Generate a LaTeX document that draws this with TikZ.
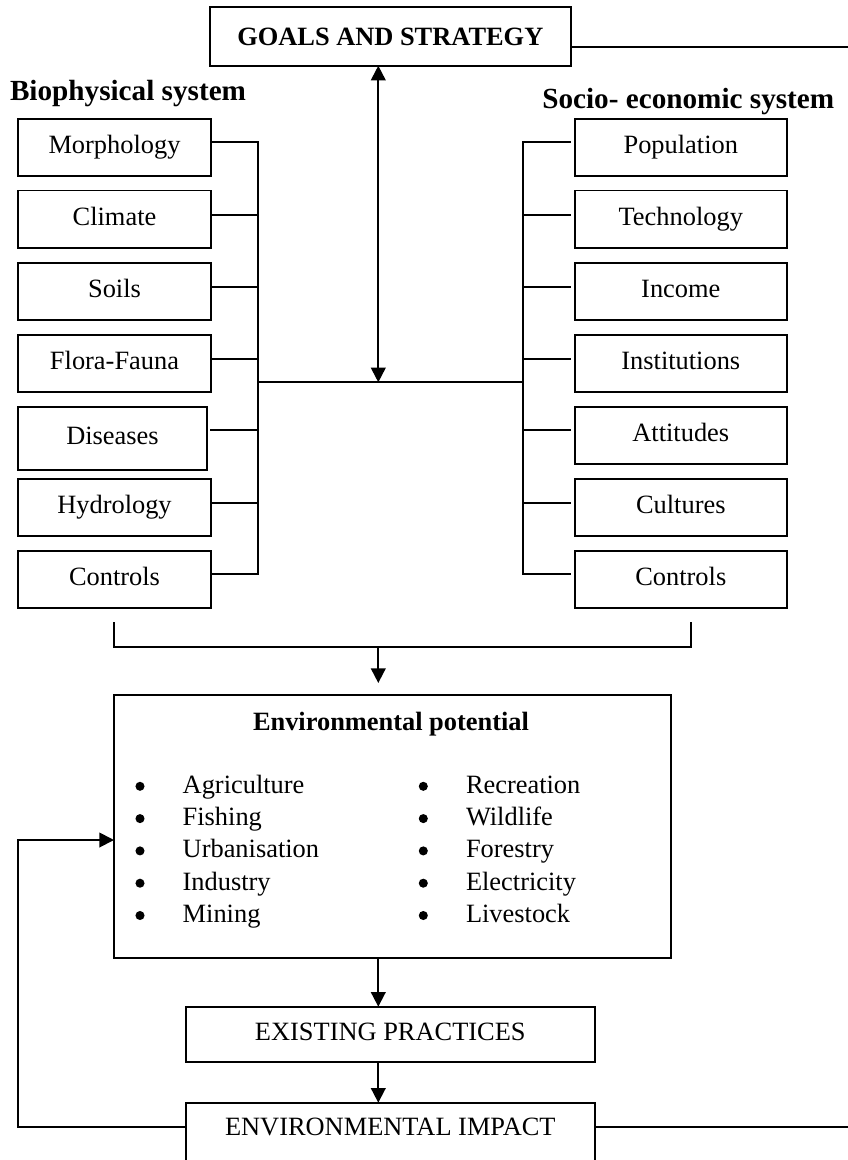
\documentclass[tikz,border=0pt]{standalone}
\usepackage{fontspec}
\setmainfont{Liberation Serif}
\usetikzlibrary{arrows.meta}
\begin{document}
\begin{tikzpicture}[x=0.75pt,y=-0.75pt,
  line width=1.4pt,
  every node/.style={inner sep=0pt, outer sep=0pt},
  body/.style={font=\fontsize{19.8}{23}\selectfont},
  box/.style={draw, body, text height=13.9pt, text depth=4.95pt},
  lbox/.style={box, minimum width=144.75pt, minimum height=43pt},
  rbox/.style={box, minimum width=158.8pt, minimum height=43pt},
  head/.style={font=\fontsize{21.9}{26}\selectfont\bfseries, anchor=base west},
  dot/.style={circle, fill, draw=none, minimum size=6.8pt},
  tip/.style={-{Triangle[width=11pt,length=11pt]}},
  twotip/.style={{Triangle[width=11pt,length=11pt]}-{Triangle[width=11pt,length=11pt]}}
]
\useasboundingbox (0,0) rectangle (848,1160);
\clip (0,0) rectangle (848,1160);

% top goal box
\node[draw, font=\fontsize{19.8}{23}\selectfont\bfseries,
      minimum width=270.5pt, minimum height=43.8pt] (goals) at (390.3,36.5) {GOALS AND STRATEGY};
\coordinate (outT) at (848,46.7);
\draw ([yshift=-7.65pt]goals.east) -- (outT);

% column headings
\node[head] (bio) at (10,100) {Biophysical system};
\node[head] (soc) at (542.3,108.3) {Socio- economic system};

% biophysical factors
\node[lbox] (morph) at (114.5,147.3) {Morphology};
\node[lbox] (clim)  at (114.5,219.2) {Climate};
\node[lbox] (soil)  at (114.5,291.4) {Soils};
\node[lbox] (flora) at (114.5,363.4) {Flora-Fauna};
\node[box, minimum width=141.3pt, minimum height=47.5pt] (dis) at (112.5,438.4) {Diseases};
\node[lbox] (hydro) at (114.5,507.7) {Hydrology};
\node[lbox] (lctrl) at (114.5,579.4) {Controls};

% socio-economic factors
\node[rbox] (pop)   at (680.8,147.3) {Population};
\node[rbox] (tech)  at (680.8,219.2) {Technology};
\node[rbox] (inc)   at (680.8,291.4) {Income};
\node[rbox] (inst)  at (680.8,363.4) {Institutions};
\node[rbox] (att)   at (680.8,435.3) {Attitudes};
\node[rbox] (cult)  at (680.8,507.7) {Cultures};
\node[rbox] (rctrl) at (680.8,579.4) {Controls};

% collecting spines
\coordinate (ls)  at (258.3,574);
\coordinate (rs)  at (522.7,574);
\coordinate (hub) at (378.3,382.3);

\draw ([yshift=3.75pt]morph.east) -| (ls);
\draw ([yshift=3.4pt]clim.east)   -| (ls);
\draw ([yshift=3.5pt]soil.east)   -| (ls);
\draw ([yshift=3.3pt]flora.east)  -| (ls);
\draw[shorten <=2.5pt] ([yshift=6.3pt]dis.east) -| (ls);
\draw ([yshift=3.3pt]hydro.east)  -| (ls);
\draw ([yshift=4pt]lctrl.east)    -| (ls);

\draw[shorten >=3pt] (rs) |- ([yshift=3.75pt]pop.west);
\draw[shorten >=3pt] (rs) |- ([yshift=3.4pt]tech.west);
\draw[shorten >=3pt] (rs) |- ([yshift=3.5pt]inc.west);
\draw[shorten >=3pt] (rs) |- ([yshift=3.3pt]inst.west);
\draw[shorten >=3pt] (rs) |- ([yshift=4pt]att.west);
\draw[shorten >=3pt] (rs) |- ([yshift=3.3pt]cult.west);
\draw[shorten >=3pt] (rs) |- ([yshift=4pt]rctrl.west);

\draw (ls |- hub) -- (rs |- hub);
\draw[twotip] (hub) -- (hub |- goals.south);

% environmental potential
\node[draw, minimum width=417.75pt, minimum height=197.25pt] (env) at (392.5,826.5) {};
\node[body, anchor=base] (envt) at (391,730) {\bfseries Environmental potential};
\foreach \t [count=\i] in {Agriculture,Fishing,Urbanisation,Industry,Mining} {
  \node[dot] (lb\i) at (140,{754+32.3*\i}) {};
  \node[body, anchor=base west] (li\i) at (182.7,{761+32.3*\i}) {\t};
}
\foreach \t [count=\i] in {Recreation,Wildlife,Forestry,Electricity,Livestock} {
  \node[dot] (rb\i) at (423.3,{754+32.3*\i}) {};
  \node[body, anchor=base west] (ri\i) at (466,{761+32.3*\i}) {\t};
}

% bracket joining both systems
\coordinate (bl) at (114.3,622);
\coordinate (br) at (690.7,622);
\coordinate (bj) at (378.3,646.7);
\draw (bl) |- (bj) -| (br);
\draw[tip, shorten >=9pt] (bj) -- (bj |- env.north);

% practices and impact
\node[box, minimum width=306.5pt, minimum height=41.25pt] (ex) at (390.3,1034.2) {EXISTING PRACTICES};
\node[draw, minimum width=306.5pt, minimum height=54pt, anchor=north] (imp) at (390.3,1102.7) {};
\node[body, anchor=base] (impt) at (390.3,1135) {ENVIRONMENTAL IMPACT};

\draw[tip] (hub |- env.south) -- (hub |- ex.north);
\draw[tip] (hub |- ex.south) -- (hub |- imp.north);

% feedback loop and outgoing line
\coordinate (fb) at (18.3,840);
\draw[tip] ([yshift=-18pt]imp.north west) -| (fb) -- (fb -| env.west);
\coordinate (outB) at (848,1126.7);
\draw ([yshift=-18pt]imp.north east) -- (outB);
\end{tikzpicture}
\end{document}
